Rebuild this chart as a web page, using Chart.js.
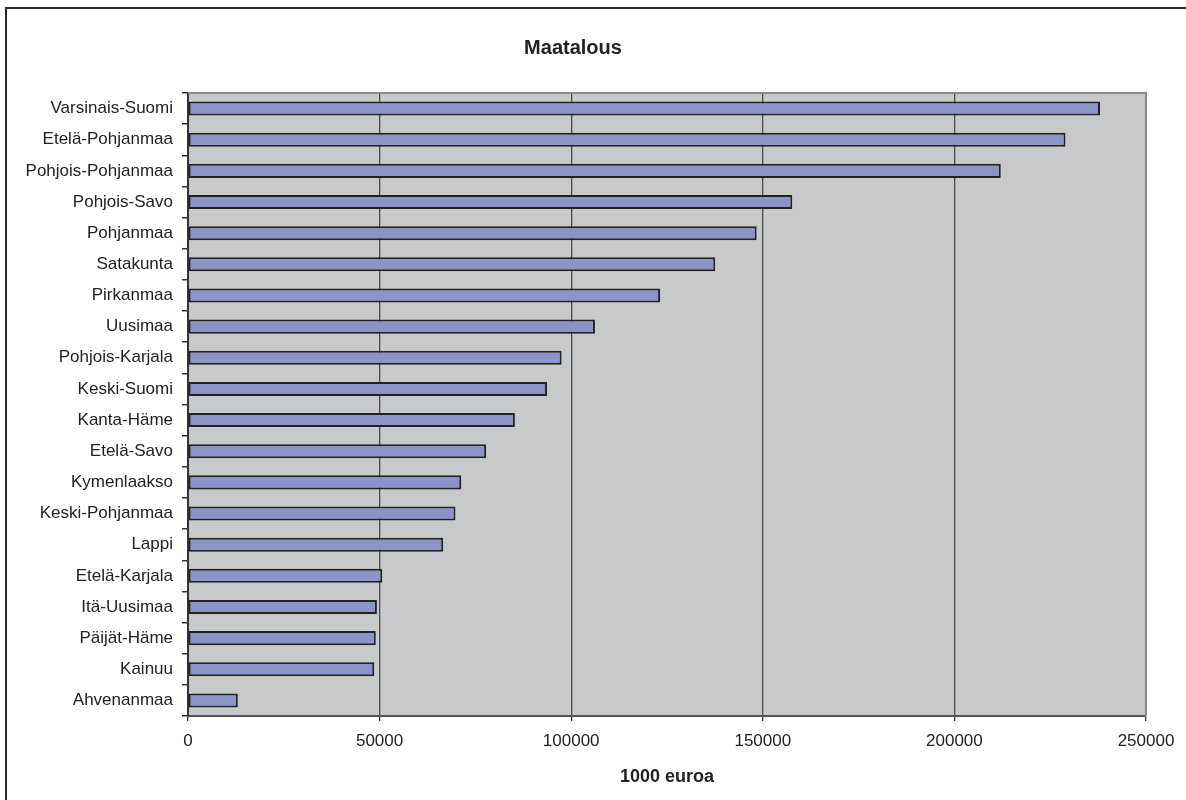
<!DOCTYPE html>
<html>
<head>
<meta charset="utf-8">
<title>Maatalous</title>
<script src="https://cdn.jsdelivr.net/npm/chart.js@4"></script>
<style>
  body { margin: 0; background: #fff; overflow: hidden; }
  #wrap { position: relative; width: 1186px; height: 800px; }
</style>
</head>
<body>
<div id="wrap"><canvas id="myChart"></canvas></div>
<script>
// data (1000 euroa)
var regions = ["Varsinais-Suomi", "Etelä-Pohjanmaa", "Pohjois-Pohjanmaa", "Pohjois-Savo",
  "Pohjanmaa", "Satakunta", "Pirkanmaa", "Uusimaa", "Pohjois-Karjala", "Keski-Suomi",
  "Kanta-Häme", "Etelä-Savo", "Kymenlaakso", "Keski-Pohjanmaa", "Lappi", "Etelä-Karjala",
  "Itä-Uusimaa", "Päijät-Häme", "Kainuu", "Ahvenanmaa"]
var values = [238000, 229000, 212100, 157700, 148400, 137600, 123200, 106200, 97500, 93700,
  85300, 77800, 71300, 69800, 66600, 50700, 49300, 49000, 48600, 13000]
var xTicks = [0, 50000, 100000, 150000, 200000, 250000]

var font = "'Liberation Sans', Arial, sans-serif"

// grey plot area + frame of the whole chart
var plotBg = {
  id: 'plotBg',
  beforeDraw: function(chart) {
    var ctx = chart.ctx, a = chart.chartArea
    ctx.save()
    ctx.fillStyle = '#c8c9cb'
    ctx.fillRect(a.left, a.top, a.right - a.left, a.bottom - a.top)
    ctx.restore()
  },
  afterDatasetsDraw: function(chart) {
    var ctx = chart.ctx, a = chart.chartArea
    ctx.save()
    ctx.strokeStyle = '#8a8a8a'
    ctx.lineWidth = 2
    ctx.beginPath()
    ctx.moveTo(a.left, a.top)
    ctx.lineTo(a.right, a.top)
    ctx.lineTo(a.right, a.bottom)
    ctx.stroke()
    ctx.restore()
  },
  afterDraw: function(chart) {
    var ctx = chart.ctx
    ctx.save()
    ctx.strokeStyle = '#2a2a2a'
    ctx.lineWidth = 2
    ctx.beginPath()
    ctx.moveTo(6, 820)
    ctx.lineTo(6, 8)
    ctx.lineTo(1200, 8)
    ctx.stroke()
    ctx.restore()
  }
}

var chart = new Chart(document.getElementById('myChart').getContext('2d'), {
  type: 'bar',
  data: {
    labels: regions,
    datasets: [{
      label: 'Maatalous',
      data: values,
      backgroundColor: '#8b93c9',
      borderColor: '#222',
      borderWidth: 2,
      borderSkipped: false,
      categoryPercentage: 1,
      barPercentage: 0.45
    }]
  },
  options: {
    indexAxis: 'y',
    responsive: true,
    maintainAspectRatio: false,
    animation: false,
    layout: { padding: { left: 0, right: 40, top: 0, bottom: 8 } },
    plugins: {
      legend: { display: false },
      tooltip: { enabled: false },
      title: {
        display: true,
        text: 'Maatalous',
        color: '#222',
        font: { family: font, size: 20, weight: 'bold' },
        padding: { top: 36, bottom: 33 }
      }
    },
    scales: {
      x: {
        type: 'linear',
        min: 0,
        max: 250000,
        afterBuildTicks: function(scale) {
          scale.ticks = xTicks.map(function(v) { return { value: v } })
        },
        ticks: {
          color: '#222',
          font: { family: font, size: 17 },
          padding: 10,
          maxRotation: 0,
          callback: function(v) { return String(v) }
        },
        grid: {
          color: '#4a4a4a',
          lineWidth: 1.3,
          tickColor: '#333',
          tickLength: 5
        },
        border: { color: '#555', width: 2 },
        title: {
          display: true,
          text: '1000 euroa',
          color: '#222',
          font: { family: font, size: 18, weight: 'bold' },
          padding: { top: 5, bottom: 4 }
        }
      },
      y: {
        afterFit: function(scale) { scale.width = 188 },
        ticks: {
          color: '#222',
          font: { family: font, size: 17 },
          padding: 9,
          autoSkip: false
        },
        grid: {
          drawOnChartArea: false,
          tickColor: '#333',
          tickLength: 6,
          lineWidth: 1.5
        },
        border: { color: '#333', width: 2 }
      }
    }
  },
  plugins: [plotBg]
})
</script>
</body>
</html>
